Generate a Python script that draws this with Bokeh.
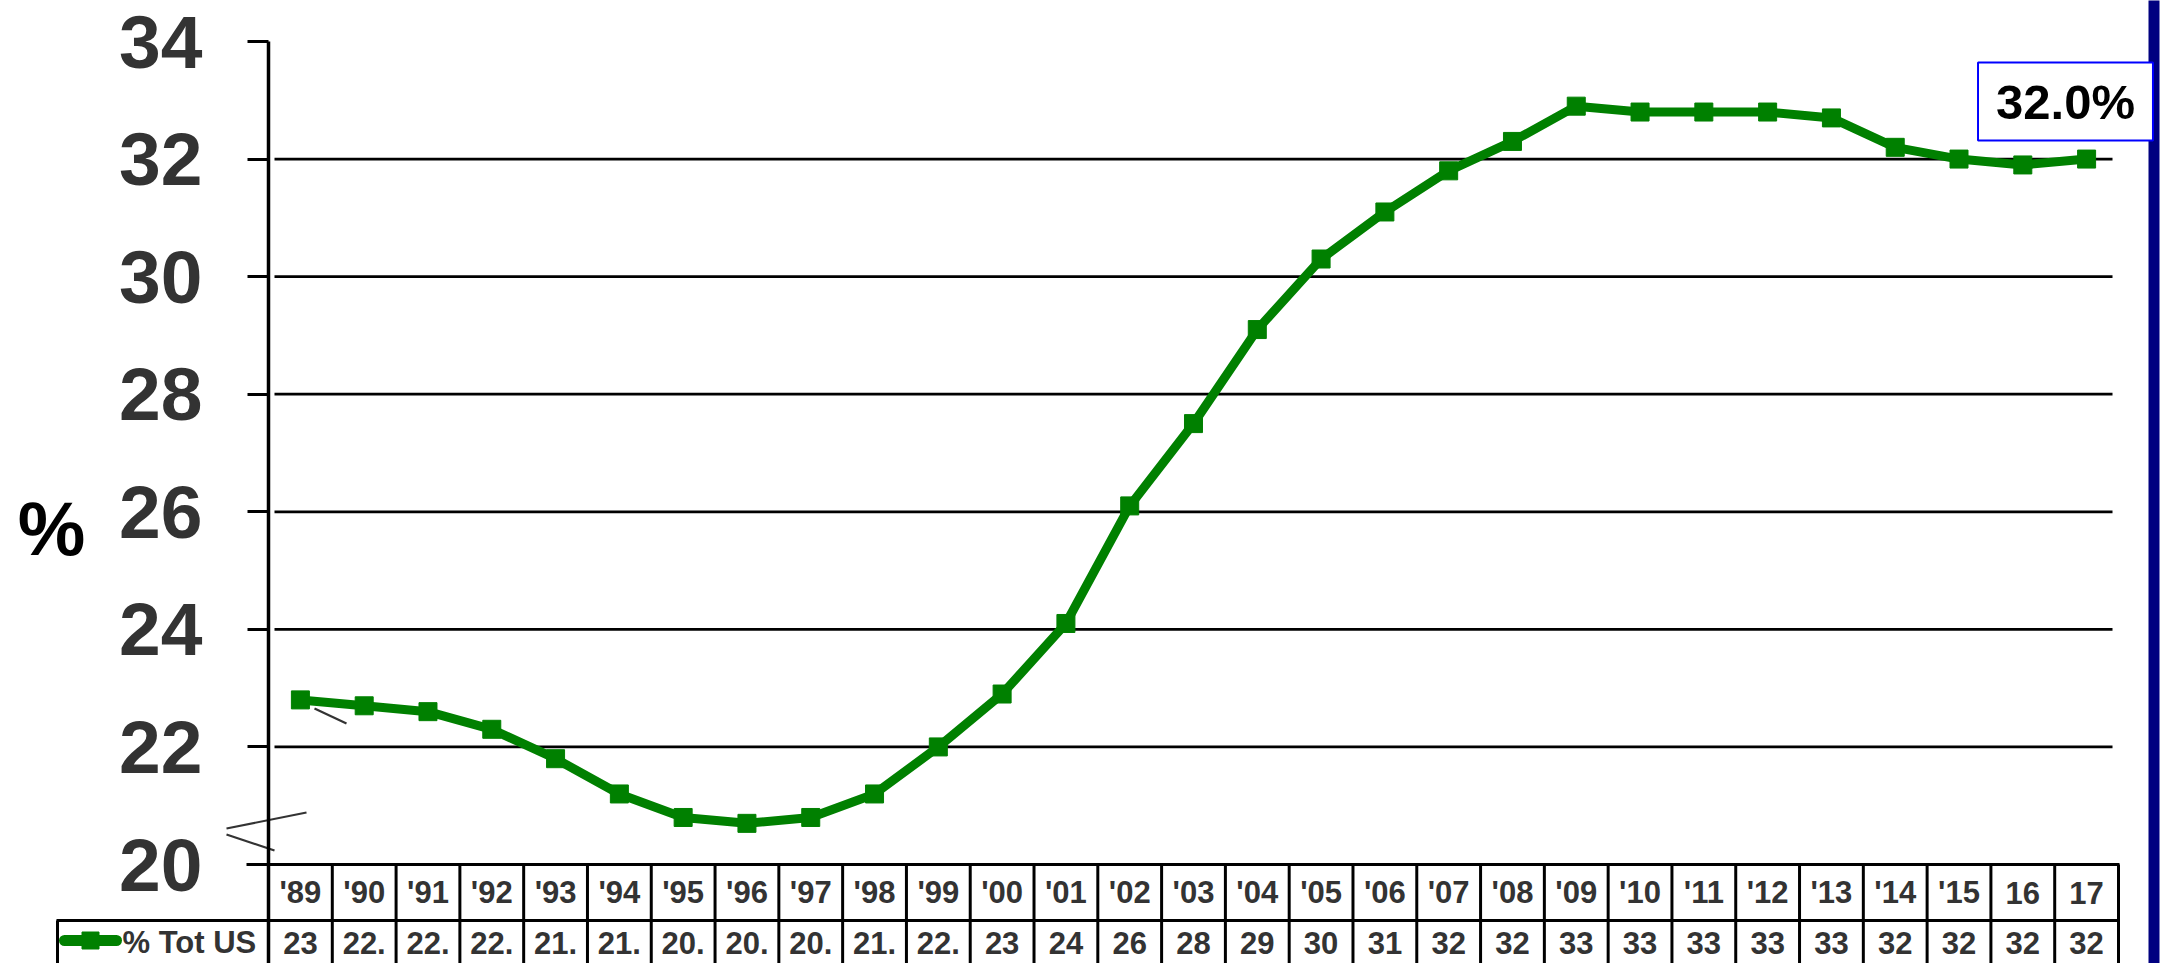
from bokeh.plotting import figure
from bokeh.models import Range1d, FixedTicker, Label, ColumnDataSource
from bokeh.embed import file_html
from bokeh.resources import INLINE
from bokeh.core.properties import value

# ---------------- data ----------------
years = ["'89", "'90", "'91", "'92", "'93", "'94", "'95", "'96", "'97", "'98",
         "'99", "'00", "'01", "'02", "'03", "'04", "'05", "'06", "'07", "'08",
         "'09", "'10", "'11", "'12", "'13", "'14", "'15", "16", "17"]
share = [22.8, 22.7, 22.6, 22.3, 21.8, 21.2, 20.8, 20.7, 20.8, 21.2,
         22.0, 22.9, 24.1, 26.1, 27.5, 29.1, 30.3, 31.1, 31.8, 32.3,
         32.9, 32.8, 32.8, 32.8, 32.7, 32.2, 32.0, 31.9, 32.0]
table_labels = ["23", "22.", "22.", "22.", "21.", "21.", "20.", "20.", "20.", "21.",
                "22.", "23", "24", "26", "28", "29", "30", "31", "32", "32",
                "33", "33", "33", "33", "33", "32", "32", "32", "32"]
y_ticks = [20, 22, 24, 26, 28, 30, 32, 34]
grid_ticks = [22, 24, 26, 28, 30, 32]
series_name = "% Tot US"
axis_title = "%"
last_label = "32.0%"

GREEN = "#008000"
DARK = "#333333"
FONT = "Liberation Sans"

# ---------------- layout geometry (canvas pixels -> data units) ----------------
W, H = 2161, 963
X0, XS = 268.0, 63.793      # left edge of first category, px per category
Y34, YS = 41.0, 58.786      # pixel of y=34, px per unit


def X(px):
    return (px - X0) / XS


def Y(px):
    return 34 - (px - Y34) / YS


n = len(years)
xs = [i + 0.5 for i in range(n)]

p = figure(width=W, height=H, output_backend="svg", toolbar_location=None,
           x_range=Range1d(X(0), X(W)), y_range=Range1d(Y(H), Y(0)),
           min_border=0, x_axis_location=None)
p.outline_line_color = None
p.background_fill_color = "white"
p.border_fill_color = "white"
p.grid.visible = False

# real y axis, pinned at the first category edge
ax = p.yaxis[0]
ax.fixed_location = 0
ax.ticker = FixedTicker(ticks=y_ticks)
ax.bounds = (Y(H + 5), 34)
ax.axis_line_color = "black"
ax.axis_line_width = 3.5
ax.major_tick_line_color = "black"
ax.major_tick_line_width = 3
ax.major_tick_out = 21
ax.major_tick_in = 0
ax.minor_tick_line_color = None
ax.major_label_standoff = 45
ax.major_label_text_font = FONT
ax.major_label_text_font_style = "bold"
ax.major_label_text_font_size = "75px"
ax.major_label_text_color = DARK

# horizontal grid lines
p.segment(x0=[X(274)] * len(grid_ticks), y0=grid_ticks,
          x1=[X(2112)] * len(grid_ticks), y1=grid_ticks,
          line_color="black", line_width=2.7)

# series
src = ColumnDataSource(dict(x=xs, y=share))
p.line("x", "y", source=src, line_color=GREEN, line_width=9)
p.scatter("x", "y", source=src, marker="square", size=18,
          fill_color=GREEN, line_color=GREEN)

# axis-break marks and small leader stroke
p.segment(x0=[X(226), X(226), X(314)], y0=[Y(828), Y(834), Y(708)],
          x1=[X(306), X(274), X(346)], y1=[Y(812), Y(850), Y(723)],
          line_color=DARK, line_width=2.2)

p.add_layout(Label(x=X(51), y=Y(528), text=axis_title, text_align="center",
                   text_baseline="middle", text_font=FONT, text_font_style="bold",
                   text_font_size="76px", text_color="black"))

p.add_layout(Label(x=X(2065), y=Y(101), text=last_label, text_align="center",
                   text_baseline="middle", text_font=FONT, text_font_style="bold",
                   text_font_size="49px", text_color="black",
                   background_fill_color="white", border_line_color="#0000ff",
                   border_line_width=2, padding=(18, 12)))

# ---------------- data table ----------------
y_top, y_mid, y_bot = Y(864), Y(920), Y(H + 5)
p.segment(x0=[X(246), X(56)], y0=[y_top, y_mid], x1=[X(2119), X(2119)], y1=[y_top, y_mid],
          line_color="black", line_width=3)
vx = list(range(1, n + 1))
p.segment(x0=vx, y0=[y_top] * len(vx), x1=vx, y1=[y_bot] * len(vx),
          line_color="black", line_width=3)
p.segment(x0=[X(57)], y0=[y_mid], x1=[X(57)], y1=[y_bot], line_color="black", line_width=3)

tsrc = ColumnDataSource(dict(x=xs, yr=years, lab=table_labels,
                             yh=[Y(892)] * n, yd=[Y(942)] * n))
p.text("x", "yh", text="yr", source=tsrc, text_align="center", text_baseline="middle",
       text_font=value(FONT), text_font_style="bold", text_font_size="31px",
       text_color=DARK)
p.text("x", "yd", text="lab", source=tsrc, text_align="center", text_baseline="middle",
       text_font=value(FONT), text_font_style="bold", text_font_size="31px",
       text_color=DARK)

# legend key in the table
p.line([X(64), X(116)], [Y(940), Y(940)], line_color=GREEN, line_width=11, line_cap="round")
p.scatter([X(90)], [Y(940)], marker="square", size=17, fill_color=GREEN, line_color=GREEN)
p.text([X(122)], [Y(942)], text=[series_name], text_align="left", text_baseline="middle",
       text_font=value(FONT), text_font_style="bold", text_font_size="31px",
       text_color=DARK)

# navy bar at the right edge
p.quad(left=[X(2148)], right=[X(2159)], bottom=[Y(H + 5)], top=[Y(-5)],
       fill_color="#000080", line_color=None)

with open("out.html", "w") as f:
    f.write(file_html(p, INLINE))
